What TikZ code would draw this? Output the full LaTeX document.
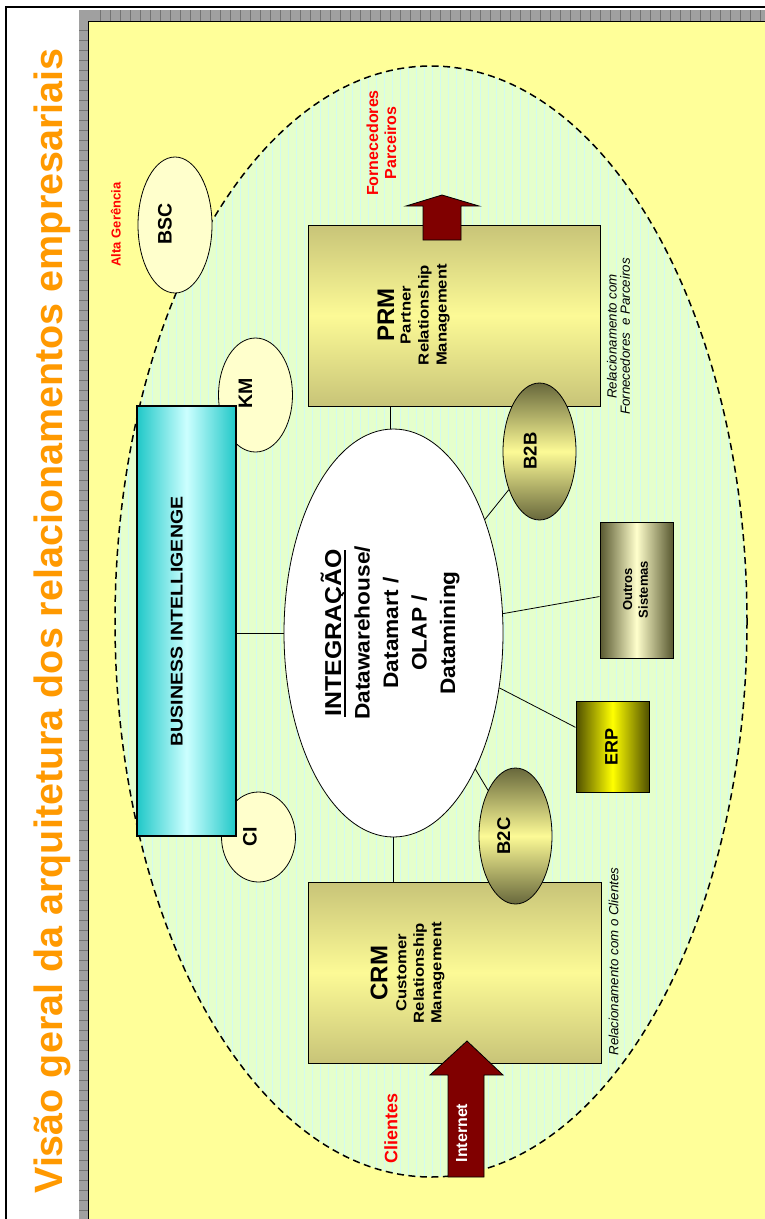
\documentclass[tikz,border=0pt]{standalone}
\usepackage{fontspec}
\setmainfont{Liberation Sans}
\newfontfamily\wfont[FakeStretch=1.15]{Liberation Sans}
\newfontfamily\mfont[FakeStretch=1.08]{Liberation Sans}
\usetikzlibrary{shapes.geometric}
\definecolor{ttlorange}{RGB}{255,153,0}
\definecolor{bgyellow}{RGB}{255,255,153}
\definecolor{zonegreen}{RGB}{229,255,204}
\definecolor{gridcyan}{RGB}{210,250,240}
\definecolor{rulergray}{RGB}{160,160,160}
\definecolor{tickgray}{RGB}{115,115,115}
\definecolor{khaki}{RGB}{200,196,120}
\definecolor{khakilight}{RGB}{252,250,150}
\definecolor{olivedark}{RGB}{104,104,60}
\definecolor{cream}{RGB}{255,255,204}
\definecolor{oliveedge}{RGB}{88,88,48}
\definecolor{erpedge}{RGB}{80,80,0}
\definecolor{tealedge}{RGB}{32,200,200}
\definecolor{teallight}{RGB}{204,255,255}
\definecolor{darkred}{RGB}{128,0,0}
\definecolor{lblred}{RGB}{255,0,0}
\newcommand\fs[2]{\fontsize{#1}{#2}\selectfont}
\newsavebox\ulsave
\newcommand\ulbox[1]{\sbox\ulsave{#1}\rlap{\rule[-5pt]{\wd\ulsave}{2pt}}\usebox\ulsave}
\tikzset{
  lbl/.style={rotate=90, inner sep=0pt},
  mlbl/.style={rotate=90, inner sep=0pt, align=center},
  smallell/.style={ellipse, draw, line width=0.8pt, inner sep=0pt},
  conn/.style={draw=black, line width=0.8pt},
  bigarrow/.style={fill=darkred, draw=black, line width=0.8pt},
}
\begin{document}
\begin{tikzpicture}[x=1pt,y=-1pt]
\useasboundingbox (0,0) rectangle (765,1219);
\fill[white] (0,0) rectangle (765,1219);
% frame
\draw[line width=1.5pt] (6,1219) -- (6,7) -- (765,7);
% ruler strips
\fill[rulergray] (79,10) rectangle (765,21);
\fill[rulergray] (79,10) rectangle (88,1219);
\foreach \x in {100,110,...,760} \draw[tickgray, line width=0.4pt] (\x,10) -- (\x,21);
\foreach \y in {30,40,...,1210} \draw[tickgray, line width=0.4pt] (79,\y) -- (88,\y);
% slide
\fill[bgyellow] (89,21) rectangle (765,1219);
\draw[line width=0.8pt] (88.5,1219) -- (88.5,21.5) -- (765,21.5);
% title
\node[lbl, anchor=base, text=ttlorange, font=\bfseries\fs{39.5}{40}] (title) at (62,621) {Visão geral da arquitetura dos relacionamentos empresariais};
% zone
\fill[zonegreen] (431,621.5) ellipse [x radius=316, y radius=555.5];
\begin{scope}
\clip (431,621.5) ellipse [x radius=316, y radius=555.5];
\draw[gridcyan, line width=0.6pt, step=8] (112,64) grid (750,1180);
\end{scope}
\node[ellipse, draw, dash pattern=on 7pt off 4.5pt, line width=1.5pt, minimum width=632pt, minimum height=1111pt, inner sep=0pt] (zone) at (431,621.5) {};
% side ellipses
\node[smallell, fill=cream, minimum width=74pt, minimum height=136pt] (bsc) at (175,225) {};
\node[smallell, fill=cream, minimum width=74pt, minimum height=114pt] (km) at (255.5,395) {};
\node[smallell, fill=cream, minimum width=74pt, minimum height=90pt] (ci) at (258.5,837) {};
% main boxes
\node[draw, line width=1pt, top color=khaki, bottom color=khaki, middle color=khakilight, minimum width=292pt, minimum height=181pt, inner sep=0pt] (prm) at (454,315.5) {};
\node[draw, line width=1pt, top color=khaki, bottom color=khaki, middle color=khakilight, minimum width=293pt, minimum height=181pt, inner sep=0pt] (crm) at (454.5,972.5) {};
% arrows
\filldraw[bigarrow] (423,240) -- (423,206) -- (406,206) -- (442,195) -- (479,206) -- (461,206) -- (461,240) -- cycle;
\filldraw[bigarrow] (448,1177) -- (448,1075) -- (430,1075) -- (467,1041) -- (503,1075) -- (484,1075) -- (484,1177) -- cycle;
% B2B B2C
\node[smallell, top color=olivedark, bottom color=olivedark, middle color=khakilight, minimum width=73pt, minimum height=137pt] (b2b) at (539.5,451.5) {};
\node[smallell, top color=olivedark, bottom color=olivedark, middle color=khakilight, minimum width=73pt, minimum height=136pt] (b2c) at (515.5,836) {};
% BI
\node[draw, line width=2pt, left color=tealedge, right color=tealedge, middle color=teallight, minimum width=99pt, minimum height=430pt, inner sep=0pt] (bi) at (186.5,621) {};
% integration
\node[ellipse, draw, line width=0.8pt, fill=white, minimum width=219pt, minimum height=408pt, inner sep=0pt] (int) at (393.5,633) {};
% other systems
\node[draw, line width=1pt, left color=oliveedge, right color=oliveedge, middle color=cream, minimum width=73pt, minimum height=136pt, inner sep=0pt] (outros) at (636.5,590) {};
\node[draw, line width=1pt, left color=erpedge, right color=erpedge, middle color=yellow, minimum width=73pt, minimum height=91pt, inner sep=0pt] (erp) at (612.5,746.5) {};
% connectors
\draw[conn] (int.west) -- (int.west -| bi.east);
\draw[conn] (int.91.5) -- (int.91.5 |- prm.south);
\draw[conn] (int.south) -- (int.south |- crm.north);
\draw[conn] (int) -- (b2b);
\draw[conn] (int) -- (outros);
\draw[conn] (int) -- (erp);
\draw[conn] (int) -- (b2c);
% texts
\node[lbl, anchor=base, text=lblred, font=\bfseries\fs{13}{13}] (alta) at (120.7,224.5) {Alta Gerência};
\node[lbl, anchor=base, font=\bfseries\fs{19.5}{20}] (bsct) at (171.5,224) {BSC};
\node[lbl, anchor=base, font=\bfseries\fs{19.5}{20}] (kmt) at (252,393) {KM};
\node[lbl, anchor=base, font=\bfseries\fs{19.5}{20}] (cit) at (256.5,837) {CI};
\node[mlbl, text=lblred, font=\bfseries\fs{16}{18}] (forn) at (381.5,143) {Fornecedores\\Parceiros};
\node[lbl, anchor=base, font=\bfseries\fs{24}{24}] (prmt) at (394,315) {PRM};
\node[mlbl, anchor=north, font=\wfont\bfseries\fs{14.5}{18}] (prms) at (400.5,315) {Partner\\Relationship\\Management};
\node[lbl, anchor=base, font=\bfseries\fs{24}{24}] (crmt) at (387.3,973) {CRM};
\node[mlbl, anchor=north, font=\wfont\bfseries\fs{14.5}{17.5}] (crms) at (396,973) {Customer\\Relationship\\Management};
\node[lbl, anchor=base, font=\wfont\bfseries\fs{17}{17}] (bit) at (182.7,621.5) {BUSINESS INTELLIGENGE};
\node[mlbl, font=\mfont\bfseries\fs{21}{28.5}] (intt) at (390,633) {{\fs{23}{28.5}\ulbox{INTEGRAÇÃO}}\\Datawarehouse/\\Datamart /\\OLAP /\\Datamining};
\node[lbl, anchor=base, font=\bfseries\fs{18.5}{19}] (b2bt) at (536.7,451) {B2B};
\node[lbl, anchor=base, font=\bfseries\fs{18.5}{19}] (b2ct) at (510,836) {B2C};
\node[lbl, anchor=base, font=\bfseries\fs{18}{18}] (erpt) at (617.5,746.5) {ERP};
\node[mlbl, font=\bfseries\fs{13}{15.6}] (outrost) at (635.5,589.5) {Outros\\Sistemas};
\node[lbl, anchor=base, text=white, font=\bfseries\fs{16}{16}] (inet) at (467,1133) {Internet};
\node[lbl, anchor=base, text=lblred, font=\bfseries\fs{18}{18}] (cli) at (397.3,1128) {Clientes};
\node[lbl, anchor=base, font=\itshape\fs{13.3}{13.3}] (relc) at (618.3,961.5) {Relacionamento com o Clientes};
\node[mlbl, font=\itshape\fs{13.3}{13.3}] (relp) at (618.4,336.5) {Relacionamento com\\Fornecedores\ \ e Parceiros};
\end{tikzpicture}
\end{document}
